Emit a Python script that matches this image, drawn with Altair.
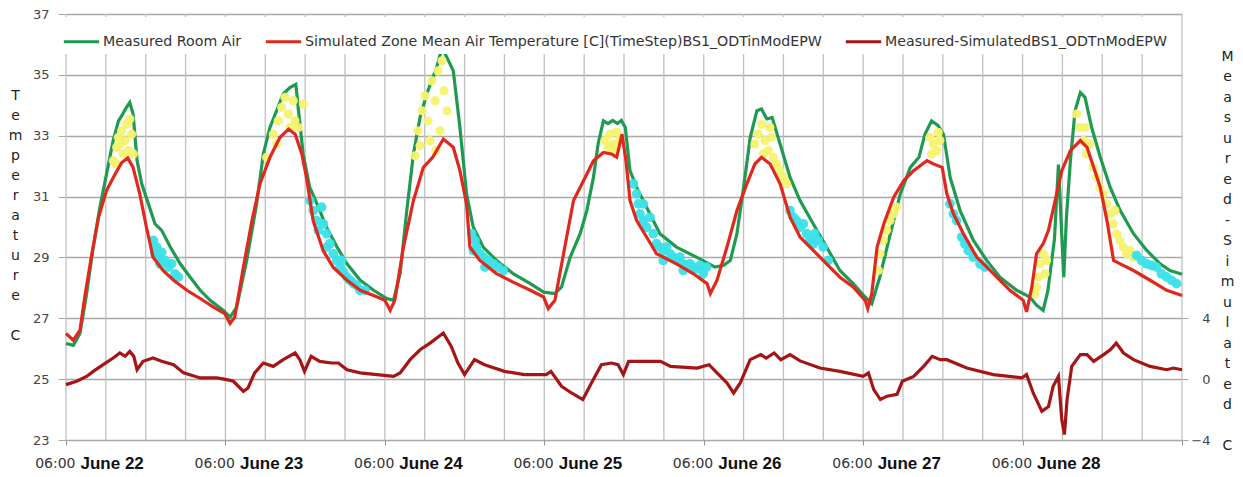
import altair as alt
import pandas as pd

SERIES = ["Measured Room Air",
          "Simulated Zone Mean Air Temperature [C](TimeStep)BS1_ODTinModEPW",
          "Measured-SimulatedBS1_ODTnModEPW"]
COLORS = ["#1F9A50", "#E0281E", "#A51515"]
DAY_LABELS = ["June 22", "June 23", "June 24", "June 25", "June 26", "June 27", "June 28"]
BLANK = "\u2800"
LEFT_TITLE = ["T", "e", "m", "p", "e", "r", "a", "t", "u", "r", "e", BLANK, "C"]
RIGHT_TITLE = ["M", "e", "a", "s", "u", "r", "e", "d", "-", "S", "i", "m", "u", "l",
               "a", "t", "e", "d", BLANK, "C"]

# vertical grid lines: every 6 hours (hours since June 22 06:00)
grid_h = list(range(0, 169, 6))

# hours since June 22 06:00
meas_h = [0, 1.1, 2.1, 3.1, 4.1, 5.1, 6.1, 7.1, 7.9, 8.4, 9.1, 9.6, 10.1, 10.7, 11.4, 12.4,
          13.4, 14.4, 15.7, 17.2, 18.7, 20.2, 21.7, 23.7, 24.7, 25.7, 27.2, 28.7, 29.7, 30.7,
          31.7, 32.7, 33.7, 34.6, 35.0, 35.7, 36.7, 38.0, 39.2, 40.8, 42.3, 44.3, 46.3, 48.3,
          49.3, 50.3, 51.3, 52.3, 53.3, 54.3, 55.8, 56.6, 57.5, 58.3, 59.3, 60.3, 61.3, 62.8,
          64.8, 67.3, 69.9, 71.9, 73.6, 74.6, 75.9, 77.4, 78.4, 79.4, 80.1, 80.9, 81.6, 82.3,
          83.0, 83.6, 84.2, 84.9, 85.9, 87.4, 89.4, 91.9, 94.9, 97.7, 99.0, 100.0, 101.0, 102.0,
          103.0, 104.0, 104.7, 105.5, 106.3, 107.5, 109.0, 110.5, 112.5, 114.5, 116.5, 118.5,
          120.3, 121.3, 122.5, 124.1, 125.6, 127.1, 128.4, 129.3, 130.3, 131.3, 132.1, 133.1,
          134.6, 136.6, 138.6, 140.6, 143.1, 145.1, 146.1, 147.1, 147.8, 148.8, 149.4, 149.8,
          150.2, 150.6, 151.2, 151.9, 152.7, 153.4, 154.4, 155.7, 157.2, 158.7, 160.7, 162.7,
          164.7, 166.2, 168.0]
meas_t = [26.17, 26.11, 26.5, 27.81, 29.34, 30.65, 31.74, 32.84, 33.49, 33.66, 33.93, 34.09,
          33.71, 32.18, 31.42, 30.76, 30.1, 29.89, 29.34, 28.79, 28.35, 27.92, 27.59, 27.26,
          27.04, 27.37, 28.9, 30.76, 32.4, 33.27, 33.82, 34.37, 34.58, 34.69, 33.82, 32.4,
          31.3, 30.65, 30.0, 29.34, 28.79, 28.25, 27.92, 27.65, 27.59, 28.47, 30.54, 32.4,
          33.6, 34.37, 35.24, 35.9, 35.5, 35.13, 33.27, 31.09, 30.0, 29.34, 28.9, 28.47, 28.14,
          27.86, 27.81, 28.03, 29.01, 29.78, 30.54, 31.63, 32.73, 33.49, 33.4, 33.5, 33.4,
          33.5, 33.27, 31.85, 31.3, 30.65, 29.78, 29.34, 29.01, 28.68, 28.74, 28.9, 29.78,
          31.3, 32.94, 33.82, 33.88, 33.55, 33.6, 32.73, 31.63, 30.87, 30.1, 29.34, 28.57,
          28.14, 27.7, 27.48, 28.35, 29.78, 31.09, 31.96, 32.29, 33.05, 33.49, 33.33, 33.05,
          31.63, 30.54, 29.56, 28.9, 28.35, 27.92, 27.7, 27.43, 27.26, 27.9, 29.6, 32.05,
          30.2, 28.35, 30.3, 32.18, 33.82, 34.42, 34.26, 33.27, 32.29, 31.3, 30.54, 29.78,
          29.23, 28.79, 28.57, 28.45]

sim_h = [0, 1.1, 2.1, 2.9, 3.9, 4.9, 6.1, 7.4, 8.4, 9.3, 10.1, 11.1, 12.1, 13.1, 14.6, 16.2,
         18.2, 20.2, 22.2, 23.9, 24.7, 25.4, 26.7, 28.0, 29.2, 30.7, 32.2, 33.5, 34.5, 35.5,
         36.2, 37.2, 38.7, 40.2, 42.3, 44.3, 46.3, 48.0, 48.8, 49.5, 50.8, 52.3, 53.8, 55.2,
         56.8, 58.3, 59.3, 60.3, 60.8, 62.3, 64.8, 67.3, 69.9, 71.9, 72.6, 73.6, 74.9, 76.4,
         77.9, 79.4, 80.9, 82.1, 82.9, 83.7, 84.3, 84.9, 85.9, 87.4, 88.9, 91.9, 94.4, 96.5,
         97.0, 98.0, 99.5, 101.0, 102.5, 103.7, 104.7, 106.0, 107.5, 109.0, 110.5, 112.5,
         114.5, 116.5, 118.5, 120.3, 120.7, 121.3, 122.1, 123.1, 124.6, 126.1, 127.6, 129.6,
         130.6, 131.9, 132.6, 133.6, 135.1, 137.1, 139.6, 142.1, 144.1, 144.6, 145.4, 146.1,
         147.1, 147.9, 148.9, 149.9, 151.2, 152.7, 153.7, 154.7, 155.7, 156.7, 157.7, 158.7,
         160.7, 163.2, 165.7, 168.0]
sim_t = [26.5, 26.28, 26.61, 27.81, 29.12, 30.32, 31.2, 31.74, 32.12, 32.27, 31.96, 31.09,
         30.0, 29.01, 28.57, 28.25, 27.92, 27.65, 27.37, 27.15, 26.83, 27.04, 28.68, 30.21,
         31.42, 32.29, 32.94, 33.22, 33.05, 32.4, 31.63, 30.21, 29.23, 28.68, 28.25, 27.92,
         27.75, 27.59, 27.26, 27.59, 29.34, 30.87, 31.96, 32.29, 32.89, 32.62, 31.85, 30.76,
         29.34, 28.9, 28.47, 28.19, 27.92, 27.7, 27.32, 27.59, 29.12, 30.87, 31.52, 32.18,
         32.45, 32.4, 32.29, 33.05, 32.18, 30.87, 30.21, 29.67, 29.12, 28.79, 28.47, 28.14,
         27.81, 28.25, 29.34, 30.54, 31.42, 32.07, 32.29, 32.07, 31.42, 30.32, 29.67, 29.23,
         28.79, 28.35, 28.03, 27.59, 27.32, 27.81, 29.34, 30.1, 30.98, 31.52, 31.85, 32.18,
         32.07, 31.96, 31.09, 30.43, 29.78, 29.01, 28.47, 27.92, 27.59, 27.21, 28.03, 29.12,
         29.45, 29.89, 30.87, 31.85, 32.51, 32.84, 32.62, 31.96, 31.3, 30.21, 28.9, 28.79,
         28.57, 28.25, 27.92, 27.75]

diff_h = [0, 1.6, 3.1, 4.1, 5.6, 7.1, 8.1, 8.9, 9.6, 10.2, 10.7, 11.6, 13.1, 14.4, 16.2, 17.7,
          20.2, 22.7, 24.2, 25.2, 26.7, 27.4, 28.4, 29.7, 31.2, 32.7, 34.5, 35.2, 35.9, 36.9,
          38.2, 40.0, 41.0, 42.3, 44.3, 46.8, 49.3, 50.3, 51.8, 53.3, 54.8, 56.8, 58.0, 59.0,
          60.0, 61.5, 63.0, 66.0, 69.0, 72.3, 73.0, 74.6, 76.1, 77.8, 79.1, 80.6, 82.1, 83.1,
          83.9, 84.7, 87.0, 89.5, 91.0, 95.0, 96.8, 98.0, 99.5, 100.5, 101.5, 103.0, 104.6,
          105.4, 106.6, 107.6, 109.0, 110.5, 113.5, 116.5, 120.0, 120.8, 121.6, 122.6, 123.6,
          125.1, 125.9, 127.6, 129.1, 130.4, 131.6, 132.6, 135.6, 139.6, 143.9, 144.6, 145.6,
          146.9, 147.9, 148.6, 149.4, 149.9, 150.3, 150.7, 151.4, 152.7, 153.7, 154.7, 156.2,
          157.2, 158.1, 159.2, 160.7, 163.2, 165.7, 166.7, 168.0]
diff_v = [-0.36, -0.14, 0.18, 0.51, 0.95, 1.39, 1.72, 1.5, 1.82, 1.5, 0.62, 1.17, 1.39, 1.17,
          0.95, 0.41, 0.08, 0.08, -0.03, -0.14, -0.8, -0.58, 0.41, 1.06, 0.84, 1.28, 1.72,
          1.28, 0.51, 1.5, 1.17, 1.06, 1.06, 0.62, 0.41, 0.3, 0.18, 0.41, 1.28, 1.93, 2.37,
          3.03, 2.15, 1.06, 0.3, 1.28, 0.95, 0.51, 0.3, 0.3, 0.51, -0.47, -0.91, -1.34, -0.25,
          0.95, 1.06, 0.95, 0.3, 1.17, 1.17, 1.17, 0.84, 0.73, 0.95, 0.41, -0.25, -0.91, -0.25,
          1.28, 1.61, 1.39, 1.72, 1.28, 1.61, 1.2, 0.73, 0.51, 0.18, 0.41, -0.69, -1.34, -1.12,
          -1.0, -0.14, 0.18, 0.84, 1.5, 1.28, 1.28, 0.73, 0.3, 0.08, 0.3, -0.91, -2.11, -1.8,
          -0.47, 0.18, -2.66, -3.64, -1.34, 0.84, 1.61, 1.61, 1.17, 1.61, 1.93, 2.37, 1.72,
          1.28, 0.84, 0.62, 0.73, 0.62]

yellow_h = [7.12, 7.63, 7.88, 8.38, 8.88, 9.13, 9.63, 9.88, 9.38, 8.63, 8.13, 10.14, 7.53,
            30.2, 31.2, 31.96, 32.46, 32.97, 33.47, 33.72, 34.22, 34.47, 34.97, 35.73, 31.71,
            52.54, 53.0, 53.6, 54.05, 54.5, 55.1, 55.56, 56.0, 56.3, 56.9, 57.36, 54.8, 53.3,
            55.7, 56.6,
            81.13, 81.89, 82.39, 82.89, 83.39, 81.64, 82.64,
            103.71, 104.22, 104.72, 105.22, 105.72, 106.22, 106.47, 106.97, 107.48, 107.98,
            108.48, 104.97, 105.97,
            122.28, 122.53, 123.03, 123.53, 124.04, 124.54, 125.04,
            130.05, 130.55, 131.05, 131.55, 130.3, 131.3,
            145.86, 146.36, 146.61, 147.11, 147.37, 146.11, 147.62,
            152.13, 152.63, 153.14, 153.64, 154.14, 154.64, 155.14, 155.64, 156.15, 156.65,
            157.15, 157.65, 158.15, 158.66, 159.16, 159.66, 160.16, 160.66, 153.39, 157.9]
yellow_t = [32.18, 32.62, 32.95, 33.16, 32.84, 33.38, 33.55, 33.05, 32.51, 32.4, 32.73, 32.4,
            32.07,
            32.29, 33.05, 33.49, 33.93, 34.26, 33.71, 33.27, 34.15, 33.49, 33.27, 34.04, 32.73,
            32.34, 33.16, 33.82, 34.31, 33.49, 34.8, 34.15, 35.13, 33.16, 34.48, 33.82, 32.84,
            32.67, 32.51, 35.46,
            32.84, 33.05, 32.73, 33.11, 32.84, 32.62, 32.51,
            32.73, 33.05, 33.38, 32.84, 32.51, 32.95, 32.29, 32.07, 31.85, 31.63, 31.42, 32.4,
            33.27,
            28.57, 29.12, 29.56, 29.89, 30.21, 30.43, 30.65,
            32.95, 32.73, 32.51, 32.84, 32.4, 33.11,
            27.81, 28.36, 28.79, 29.12, 28.46, 28.03, 28.9,
            33.71, 33.27, 32.84, 32.4, 32.73, 31.96, 31.63, 31.31, 31.09, 30.76, 30.43, 30.1,
            29.78, 29.56, 29.34, 29.12, 29.23, 29.01, 33.27, 30.54]

cyan_h = [13.15, 13.65, 13.9, 14.4, 14.9, 15.4, 15.9, 16.4, 16.9, 14.15, 13.4,
          36.73, 37.23, 37.73, 37.98, 38.48, 38.74, 39.24, 39.74, 40.24, 40.74, 41.24, 41.75,
          42.25, 42.75, 43.25, 43.75, 44.25, 45.0, 39.24, 41.5,
          61.06, 61.57, 61.82, 62.32, 62.82, 63.57, 64.33, 65.08, 65.83, 61.31, 63.07,
          85.4, 85.9, 86.15, 86.4, 86.9, 87.4, 87.9, 88.4, 88.9, 89.41, 89.91, 90.42, 90.92,
          91.42, 91.92, 92.42, 92.93, 93.43, 93.93, 94.43, 94.93, 95.43, 95.93, 96.44, 86.9,
          89.91, 92.93,
          108.98, 109.48, 109.98, 110.49, 110.99, 111.49, 111.99, 112.74, 113.24, 113.99,
          114.74, 112.49,
          133.07, 133.57, 134.07, 134.82, 135.32, 135.82, 136.58, 137.58, 138.33,
          161.16, 161.91, 162.66, 163.41, 164.16, 164.91, 165.67, 166.42, 167.17]
cyan_t = [29.56, 29.34, 29.01, 29.17, 28.9, 28.68, 28.79, 28.46, 28.36, 28.79, 29.12,
          30.87, 30.54, 30.21, 29.89, 30.65, 30.1, 29.78, 29.45, 29.12, 28.9, 28.68, 28.52,
          28.36, 28.25, 28.14, 28.08, 27.92, 27.92, 29.34, 28.9,
          29.78, 29.56, 29.34, 29.12, 29.01, 28.9, 28.79, 28.68, 28.57, 29.23, 28.68,
          31.42, 31.09, 30.76, 30.43, 30.21, 29.99, 30.32, 29.78, 29.45, 29.34, 29.23, 29.34,
          29.12, 29.01, 28.9, 29.01, 28.79, 28.74, 28.79, 28.68, 28.63, 28.74, 28.46, 28.68,
          30.76, 28.9, 28.57,
          30.54, 30.32, 30.21, 29.99, 30.1, 29.78, 29.56, 29.78, 29.56, 29.34, 28.9, 29.45,
          30.76, 30.43, 30.21, 29.67, 29.45, 29.23, 29.01, 28.79, 28.68,
          29.07, 28.9, 28.79, 28.74, 28.68, 28.46, 28.36, 28.25, 28.14]

meas = pd.DataFrame({"h": meas_h, "t": meas_t, "series": SERIES[0]})
sim = pd.DataFrame({"h": sim_h, "t": sim_t, "series": SERIES[1]})
diff = pd.DataFrame({"h": diff_h, "d": diff_v, "series": SERIES[2]})
yel = pd.DataFrame({"h": yellow_h, "t": yellow_t})
cya = pd.DataFrame({"h": cyan_h, "t": cyan_t})
grid = pd.DataFrame({"h": grid_h})

FONT = "DejaVu Sans"
xscale = alt.Scale(domain=[0, 168], nice=False, zero=False)
tscale = alt.Scale(domain=[23, 37], nice=False, zero=False)
color = alt.Color(
    "series:N",
    scale=alt.Scale(domain=SERIES, range=COLORS),
    legend=alt.Legend(
        orient="none", legendX=-9, legendY=3, direction="horizontal", title=None,
        symbolType="stroke", symbolSize=1250, symbolStrokeWidth=3,
        labelFont=FONT, labelFontSize=14.2, labelColor="#333333", labelLimit=1000,
        fillColor="white", padding=5, columnPadding=17, labelOffset=2,
    ),
)

day_js = "[" + ",".join("'%s'" % d for d in DAY_LABELS) + "]"

# "06:00" labels at each day tick
x_main = alt.X("h:Q", scale=xscale, axis=alt.Axis(
    values=list(range(0, 169, 24)), grid=False, ticks=False, domain=False,
    labelOverlap=False,
    labelExpr="datum.value < 168 ? '06:00' : ''",
    labelAlign="right", labelOffset=9, labelPadding=16, labelFont=FONT, labelFontSize=14,
    labelColor="#333333", title=None))

yl = alt.Y("t:Q", scale=tscale, axis=alt.Axis(
    values=list(range(23, 38, 2)), grid=True, gridColor="#A8A8A8", gridWidth=1.6,
    tickSize=8, tickColor="#A8A8A8", labelPadding=9, domain=False,
    labelFont=FONT, labelFontSize=13, labelColor="#444444",
    title=LEFT_TITLE, titleAngle=0, titleX=-51, titleY=74, titleAlign="center",
    titleBaseline="top", titleLineHeight=20, titleFont=FONT, titleFontSize=14,
    titleFontWeight="normal", titleColor="#222222"))

vgrid = alt.Chart(grid).mark_rule(color="#C0C0C0", strokeWidth=1.3).encode(x=x_main)
line_meas = alt.Chart(meas).mark_line(strokeWidth=3.2).encode(x="h:Q", y=yl, color=color)
pts_y = alt.Chart(yel).mark_circle(size=85, color="#F6F26E", opacity=0.95).encode(x="h:Q", y="t:Q")
pts_c = alt.Chart(cya).mark_circle(size=95, color="#3AE2E8", opacity=0.95).encode(x="h:Q", y="t:Q")
line_sim = alt.Chart(sim).mark_line(strokeWidth=3.2).encode(x="h:Q", y="t:Q", color=color)

left = alt.layer(vgrid, line_meas, pts_y, pts_c, line_sim)

x_second = alt.X("h:Q", scale=xscale, axis=alt.Axis(
    orient="bottom", values=list(range(0, 169, 24)), grid=False, ticks=True,
    tickSize=5, tickColor="#909090", domain=False, labelOverlap=False,
    labelExpr="datum.value < 168 ? " + day_js + "[floor(datum.value / 24)] : ''",
    labelAlign="left", labelOffset=14, labelPadding=10, labelFont="Liberation Sans",
    labelFontSize=17, labelFontWeight="bold", labelColor="#111111", title=None))

yr = alt.Y("d:Q", scale=alt.Scale(domain=[-4, 24], nice=False, zero=False), axis=alt.Axis(
    orient="right", values=[-4, 0, 4], grid=False, tickSize=6, tickColor="#A8A8A8",
    labelAlign="right", labelPadding=22, domain=False,
    labelFont=FONT, labelFontSize=13, labelColor="#444444",
    title=RIGHT_TITLE, titleAngle=0, titleX=45, titleY=35, titleAlign="center",
    titleBaseline="top", titleLineHeight=20.5, titleFont=FONT, titleFontSize=14,
    titleFontWeight="normal", titleColor="#222222"))

line_diff = alt.Chart(diff).mark_line(strokeWidth=3.2).encode(x=x_second, y=yr, color=color)

chart = alt.layer(left, line_diff).resolve_scale(
    y="independent", x="independent").properties(
    width=1116, height=426,
    autosize=alt.AutoSizeParams(type="none"),
    padding={"left": 58, "top": 6, "right": 53, "bottom": 36},
    background="white",
).configure_view(stroke=None)

chart.save("out.html", embed_options={"renderer": "svg", "actions": False})
